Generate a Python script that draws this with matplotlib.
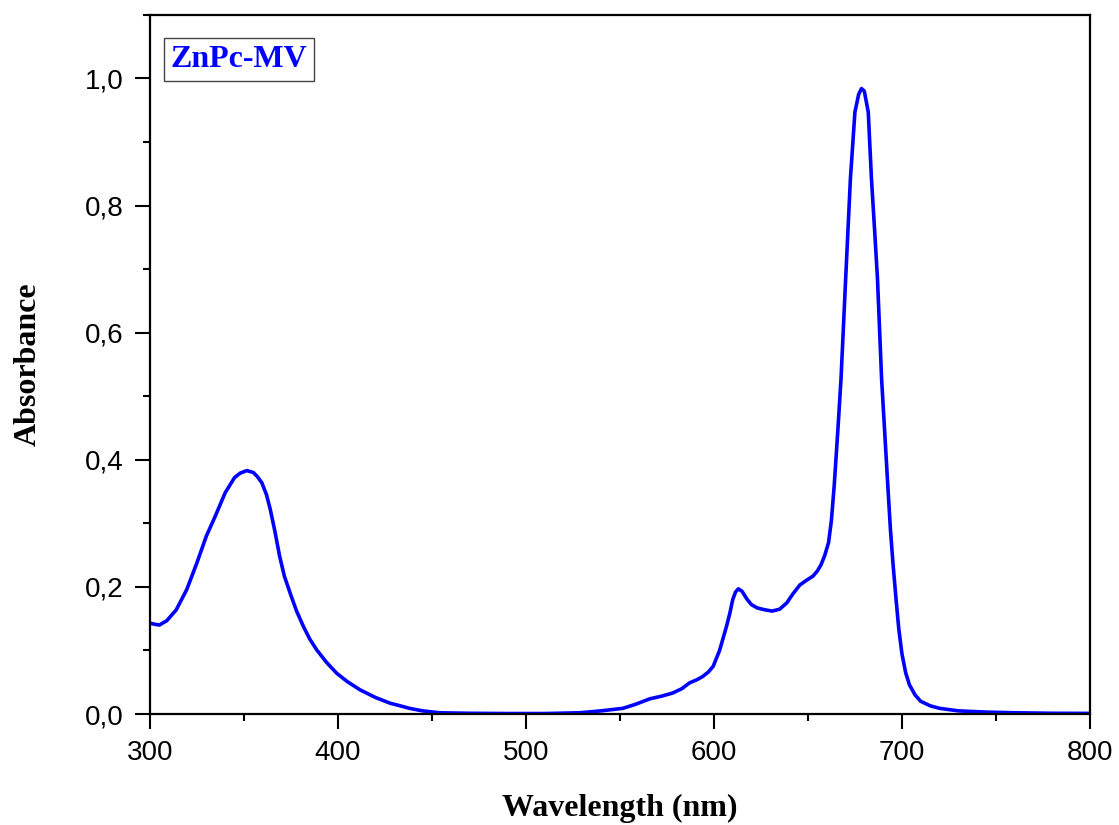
import matplotlib
matplotlib.use('Agg')
import matplotlib.pyplot as plt
from matplotlib.ticker import MultipleLocator, FuncFormatter

# ZnPc-MV absorption spectrum
wl = [300, 303, 305, 309, 314, 319.6, 325, 330, 334.7, 340, 345, 348, 351.5, 355,
      357, 359.5, 362, 364, 366.5, 369, 371.5, 374.6, 378, 381.6, 385, 388.7, 394,
      399.4, 405, 411.8, 420, 427.8, 433, 438, 445, 454, 470, 490, 510, 528.7, 540,
      551.6, 558, 566, 572, 578, 583, 587, 591, 594, 597, 599.6, 603, 606.7, 608.5,
      610, 611.5, 613, 615, 617.5, 620, 623, 627, 631, 635, 638.8, 642, 645.7, 649,
      652.7, 655, 657, 659, 661, 662.5, 664, 666, 667.6, 670, 672.6, 675.0, 677,
      678.5, 680, 682.1, 683.8, 685.5, 687.0, 689.2, 692.3, 693.9, 695.3, 696.9,
      698.3, 700, 702, 704, 707, 710, 715, 720, 730, 745, 760, 780, 800]
absb = [0.143, 0.141, 0.140, 0.147, 0.164, 0.196, 0.238, 0.280, 0.311, 0.348, 0.372,
        0.379, 0.383, 0.380, 0.374, 0.364, 0.345, 0.322, 0.287, 0.248, 0.217, 0.190,
        0.162, 0.138, 0.118, 0.101, 0.081, 0.064, 0.051, 0.038, 0.026, 0.017, 0.013,
        0.009, 0.005, 0.002, 0.0012, 0.0008, 0.0008, 0.002, 0.005, 0.009, 0.015,
        0.024, 0.028, 0.033, 0.040, 0.049, 0.054, 0.059, 0.066, 0.075, 0.100, 0.138,
        0.159, 0.180, 0.192, 0.197, 0.193, 0.181, 0.172, 0.167, 0.164, 0.162, 0.165,
        0.175, 0.189, 0.203, 0.210, 0.217, 0.225, 0.235, 0.250, 0.270, 0.305, 0.36,
        0.45, 0.527, 0.68, 0.842, 0.947, 0.975, 0.984, 0.980, 0.947, 0.842, 0.76,
        0.685, 0.527, 0.369, 0.29, 0.235, 0.18, 0.135, 0.095, 0.065, 0.046, 0.03,
        0.02, 0.013, 0.009, 0.005, 0.003, 0.002, 0.0012, 0.001]

serif = ['Liberation Serif', 'DejaVu Serif']
plt.rcParams['font.family'] = ['Liberation Sans', 'DejaVu Sans']

fig = plt.figure(figsize=(11.19, 8.25), dpi=100)
ax = fig.add_axes([0.134, 0.1345, 0.840, 0.8475])

ax.plot(wl, absb, color='#0000ff', lw=2.6, solid_joinstyle='round')

ax.set_xlim(300, 800)
ax.set_ylim(0, 1.1)
ax.xaxis.set_major_locator(MultipleLocator(100))
ax.xaxis.set_minor_locator(MultipleLocator(50))
ax.yaxis.set_major_locator(MultipleLocator(0.2))
ax.yaxis.set_minor_locator(MultipleLocator(0.1))
ax.yaxis.set_major_formatter(FuncFormatter(lambda v, p: f'{v:.1f}'.replace('.', ',')))

ax.tick_params(which='both', direction='out', top=False, right=False, width=1.5)
ax.tick_params(which='major', length=11, labelsize=20, pad=8)
ax.tick_params(which='minor', length=5)
for s in ax.spines.values():
    s.set_linewidth(1.6)

ax.set_xlabel('Wavelength (nm)', family=serif, fontweight='bold', fontsize=23, labelpad=20)
ax.set_ylabel('Absorbance', family=serif, fontweight='bold', fontsize=23, labelpad=30)

ax.text(0.0947, 0.9356, 'ZnPc-MV', transform=ax.transAxes, ha='center', va='center',
        family=serif, fontweight='bold', fontsize=23, color='#0000ff',
        bbox=dict(boxstyle='square,pad=0.22', fc='white', ec='#444444', lw=1))

fig.savefig('out.png', dpi=100)
